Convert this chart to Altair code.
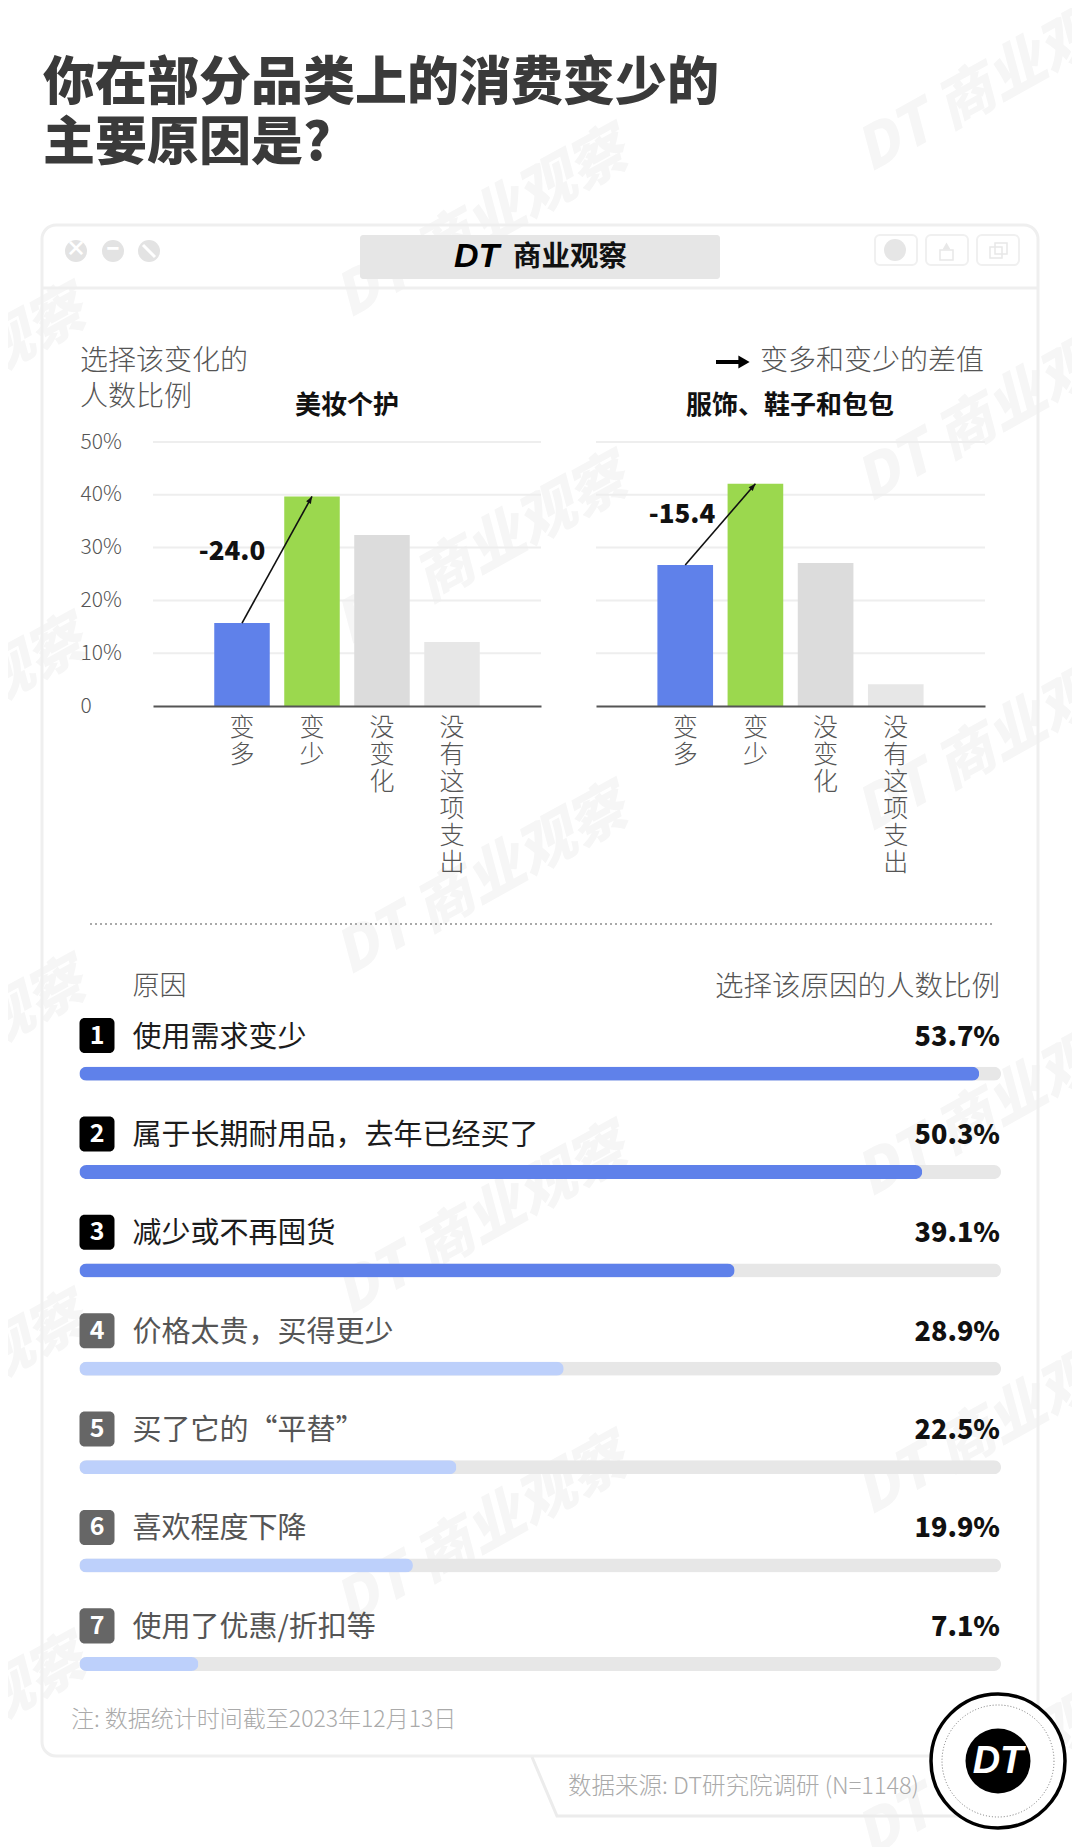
import altair as alt
import pandas as pd

# ---------- data ----------
categories = ["变多", "变少", "没变化", "没有这项支出"]
beauty_values = [15.7, 39.7, 32.4, 12.1]
apparel_values = [26.7, 42.1, 27.1, 4.1]
panel_names = ["美妆个护", "服饰、鞋子和包包"]
gaps = [-24.0, -15.4]
tick_values = [0, 10, 20, 30, 40, 50]
reasons = ["使用需求变少", "属于长期耐用品，去年已经买了", "减少或不再囤货", "价格太贵，买得更少",
           "买了它的“平替”", "喜欢程度下降", "使用了优惠/折扣等"]
reason_values = [53.7, 50.3, 39.1, 28.9, 22.5, 19.9, 7.1]
track_max = 55

# ---------- styles ----------
FONT = "Noto Sans CJK SC"
W, H = 1064, 1839
OFF = 8
cat_colors = ["#5f81ea", "#9bd84e", "#dcdcdc", "#e7e7e7"]
BLUE, PALE, TRACK = "#5f81ea", "#bdd0fb", "#e7e7e7"
GREY = "#555555"
ONE = alt.InlineData(values=[{"k": 0}])


def text(s, x, y, size, color=GREY, weight=300, align="left", style="normal", font=FONT, angle=0):
    return alt.Chart(ONE).mark_text(
        text=s, font=font, fontSize=size, fontWeight=weight, color=color, align=align,
        baseline="middle", fontStyle=style, angle=angle
    ).encode(x=alt.value(x - OFF), y=alt.value(y - OFF))


def box(x1, y1, x2, y2, fill=None, stroke=None, sw=0, r=0):
    kw = {"cornerRadius": r, "strokeWidth": sw}
    kw["fill"] = fill if fill else "transparent"
    if stroke:
        kw["stroke"] = stroke
    return alt.Chart(ONE).mark_rect(**kw).encode(
        x=alt.value(x1 - OFF), x2=alt.value(x2 - OFF), y=alt.value(y1 - OFF), y2=alt.value(y2 - OFF))


def hline(x1, x2, y, color, sw, dash=None, y2=None):
    kw = {"color": color, "strokeWidth": sw}
    if dash:
        kw["strokeDash"] = dash
    enc = dict(x=alt.value(x1 - OFF), x2=alt.value(x2 - OFF), y=alt.value(y - OFF))
    if y2 is not None:
        enc["y2"] = alt.value(y2 - OFF)
    return alt.Chart(ONE).mark_rule(**kw).encode(**enc)


def dot(x, y, d, fill=None, stroke=None, sw=0, dash=None, shape="circle"):
    kw = {"shape": shape, "size": d * d, "filled": bool(fill), "strokeWidth": sw, "opacity": 1}
    if fill:
        kw["fill"] = fill
    if stroke:
        kw["stroke"] = stroke
    if dash:
        kw["strokeDash"] = dash
    return alt.Chart(ONE).mark_point(**kw).encode(x=alt.value(x - OFF), y=alt.value(y - OFF))


def panel(values, x_range, gap, gap_x, gap_y, arrow_angle, show_y):
    df = pd.DataFrame({"cat": categories, "v": values})
    xs = alt.Scale(type="band", domain=categories, range=x_range, paddingInner=0.207, paddingOuter=0.875)
    ys = alt.Scale(domain=[0, 50], range=[698, 434])
    yaxis = alt.Axis(orient="left", offset=-72, values=tick_values, domain=False, ticks=False, grid=False,
                     labelExpr="datum.value == 0 ? '0' : datum.value + '%'", labelAlign="left", labelPadding=0,
                     labelFont=FONT, labelFontSize=21, labelFontWeight=300, labelColor=GREY, title=None,
                     zindex=1) if show_y else None
    grid = alt.Chart(pd.DataFrame({"t": tick_values[1:]})).mark_rule(color="#eeeeee", strokeWidth=2).encode(
        x=alt.value(x_range[0]), x2=alt.value(x_range[1]),
        y=alt.Y("t:Q", scale=ys, axis=yaxis))
    bars = alt.Chart(df).mark_bar().encode(
        x=alt.X("cat:N", sort=categories, scale=xs, axis=alt.Axis(
            orient="bottom", offset=698 - H, title=None, domain=True, domainColor="#555555", domainWidth=2,
            ticks=False, labelAngle=0, labelExpr="split(datum.label, '')", labelFont=FONT, labelFontSize=25,
            labelFontWeight=300, labelColor=GREY, labelLineHeight=27, labelPadding=9, labelBaseline="top",
            labelLimit=0, labelOverlap=False, grid=False, zindex=1)),
        y=alt.Y("v:Q", scale=ys, axis=None),
        color=alt.Color("cat:N", sort=categories, scale=alt.Scale(domain=categories, range=cat_colors), legend=None))
    link = alt.Chart(df.iloc[:2]).mark_line(color="#111111", strokeWidth=1.6).encode(
        x=alt.X("cat:N", sort=categories, scale=xs, axis=None), y=alt.Y("v:Q", scale=ys, axis=None))
    head = alt.Chart(df.iloc[1:2]).mark_point(
        shape="M0,0L0.42,1.1L-0.42,1.1Z", size=170, filled=True, color="#111111", opacity=1, angle=arrow_angle
    ).encode(x=alt.X("cat:N", sort=categories, scale=xs, axis=None), y=alt.Y("v:Q", scale=ys, axis=None))
    note = text(f"{gap:.1f}", gap_x, gap_y, 26, "#111111", 900, "center")
    return [grid, bars, link, head, note]


def ranking():
    df = pd.DataFrame({"rank": list(range(1, 8)), "num": [str(i) for i in range(1, 8)], "reason": reasons,
                       "v": reason_values, "txt": [f"{v:.1f}%" for v in reason_values], "t": [track_max] * 7})
    xs = alt.Scale(domain=[0, track_max], range=[71.5, 993])
    bar_y = alt.Scale(domain=reasons, range=[1058.7, 1663], paddingInner=0.8577, paddingOuter=0)
    x_none = dict(scale=xs, axis=None)
    y_none = dict(sort=reasons, scale=bar_y, axis=None)
    track = alt.Chart(df).mark_bar(color=TRACK, cornerRadius=7).encode(
        x=alt.X("t:Q", **x_none), y=alt.Y("reason:N", **y_none))
    fill = alt.Chart(df).mark_bar(cornerRadius=7).encode(
        x=alt.X("v:Q", **x_none), y=alt.Y("reason:N", **y_none),
        color=alt.condition("datum.rank <= 3", alt.value(BLUE), alt.value(PALE)))
    bar_group = alt.layer(track, fill)

    row_y = alt.Scale(domain=reasons, range=[1010, 1635.4], paddingInner=0.644, paddingOuter=0)
    y_row = dict(sort=reasons, scale=row_y, axis=None)
    badge = alt.Chart(df).mark_rect(cornerRadius=5).encode(
        x=alt.value(71.5), x2=alt.value(106.5), y=alt.Y("reason:N", **y_row),
        color=alt.condition("datum.rank <= 3", alt.value("#000000"), alt.value("#666666")))
    num = alt.Chart(df).mark_text(font=FONT, fontSize=25, fontWeight=700, color="#ffffff", baseline="middle").encode(
        x=alt.value(89), y=alt.Y("reason:N", **y_row), text="num:N")
    lab = alt.Chart(df).mark_text(font=FONT, fontSize=29, fontWeight=400, align="left", baseline="middle", dy=2).encode(
        x=alt.value(124.5), y=alt.Y("reason:N", **y_row), text="reason:N",
        color=alt.condition("datum.rank <= 3", alt.value("#1c1c1c"), alt.value("#555555")))
    val = alt.Chart(df).mark_text(font=FONT, fontSize=27, fontWeight=900, color="#111111", align="right",
                                  baseline="middle", dy=2).encode(
        x=alt.value(992), y=alt.Y("reason:N", **y_row), text="txt:N")
    return bar_group, alt.layer(badge, num, lab, val)


# ---------- decoration ----------
WM = "#f6f6f6"
wm_spots = [(1003, 80), (482, 226), (-60, 385), (1003, 410), (482, 553), (-60, 715), (1003, 740), (482, 883),
            (-60, 1057), (1003, 1105), (482, 1223), (-60, 1392), (1003, 1423), (482, 1533), (-60, 1734), (1003, 1765)]
watermarks = [text("DT 商业观察", x, y, 58, WM, 900, "center", "italic", angle=331) for x, y in wm_spots]

chrome = [
    box(42, 225, 1038, 1756, stroke="#efefef", sw=3, r=14),
    hline(42, 1038, 288, "#efefef", 3),
    box(360, 235, 720, 279, fill="#e6e6e6", r=3),
    text("DT", 454, 257, 34, "#000000", 900, style="italic", font="Liberation Sans"),
    text("商业观察", 513, 257, 28.5, "#111111", 700),
]
for cx, mark_char in zip([76, 113], ["×", "−"]):
    chrome += [dot(cx, 251, 22, fill="#e3e3e3"), text(mark_char, cx, 250, 21, "#ffffff", 900, "center")]
chrome += [dot(149, 251, 22, fill="#e3e3e3"), hline(143, 155, 245, "#ffffff", 3, y2=257)]
for x1, x2 in [(875, 917), (926, 968), (977, 1019)]:
    chrome.append(box(x1, 235, x2, 265, fill="#ffffff", stroke="#f0f0f0", sw=2, r=5))
chrome += [dot(895, 250, 22, fill="#e6e6e6"),
           box(940, 250, 953, 260, stroke="#e8e8e8", sw=1.5),
           dot(946.5, 246, 8, fill="#e8e8e8", shape="triangle-up"),
           box(990, 247, 1002, 258, stroke="#e8e8e8", sw=1.5),
           box(995, 243, 1007, 254, stroke="#e8e8e8", sw=1.5)]

tag = alt.Chart(pd.DataFrame({"x": [532 - OFF, 557 - OFF, 960 - OFF], "y": [1757 - OFF, 1816 - OFF, 1816 - OFF]})).mark_line(
    color="#ececec", strokeWidth=3).encode(x=alt.X("x:Q", scale=None), y=alt.Y("y:Q", scale=None))

heading = [
    text("你在部分品类上的消费变少的", 43, 84, 52, "#3a3a3a", 900),
    text("主要原因是?", 43, 144, 52, "#3a3a3a", 900),
    text("选择该变化的", 80, 362, 28),
    text("人数比例", 80, 398, 28),
    text(panel_names[0], 347, 406, 26, "#111111", 700, "center"),
    text(panel_names[1], 790, 406, 26, "#111111", 700, "center"),
    hline(716, 742, 362, "#000000", 4),
    dot(744, 362, 13, fill="#000000", shape="triangle-right"),
    text("变多和变少的差值", 760, 362, 28),
    hline(90, 992, 924, "#aaaaaa", 2, [2, 3]),
    text("原因", 132.5, 987, 27),
    text("选择该原因的人数比例", 1000, 987, 28.5, align="right"),
    text("注: 数据统计时间截至2023年12月13日", 71, 1720, 23, "#aaaaaa"),
    tag,
    text("数据来源: DT研究院调研 (N=1148)", 568, 1787, 23.5, "#aaaaaa"),
    dot(998, 1761, 134, fill="#ffffff", stroke="#000000", sw=3.5),
    dot(998, 1761, 112, stroke="#777777", sw=1, dash=[1, 2]),
    dot(998, 1761, 65, fill="#000000"),
    text("DT", 998, 1762, 38, "#ffffff", 900, "center", "italic", font="Liberation Sans"),
]

left = panel(beauty_values, [145, 533], gaps[0], 232, 552, 29, True)
right = panel(apparel_values, [588, 977], gaps[1], 682, 515, 41, False)
bar_group, row_group = ranking()

chart = alt.layer(
    *watermarks, *chrome, *heading, *left, *right, bar_group, row_group
).resolve_scale(x="independent", y="independent").properties(
    width=W, height=H, padding=0, autosize=alt.AutoSizeParams(type="none"),
    background="#ffffff"
).configure_view(stroke=None)

chart.save("out.html", embed_options={"renderer": "svg", "actions": False})
